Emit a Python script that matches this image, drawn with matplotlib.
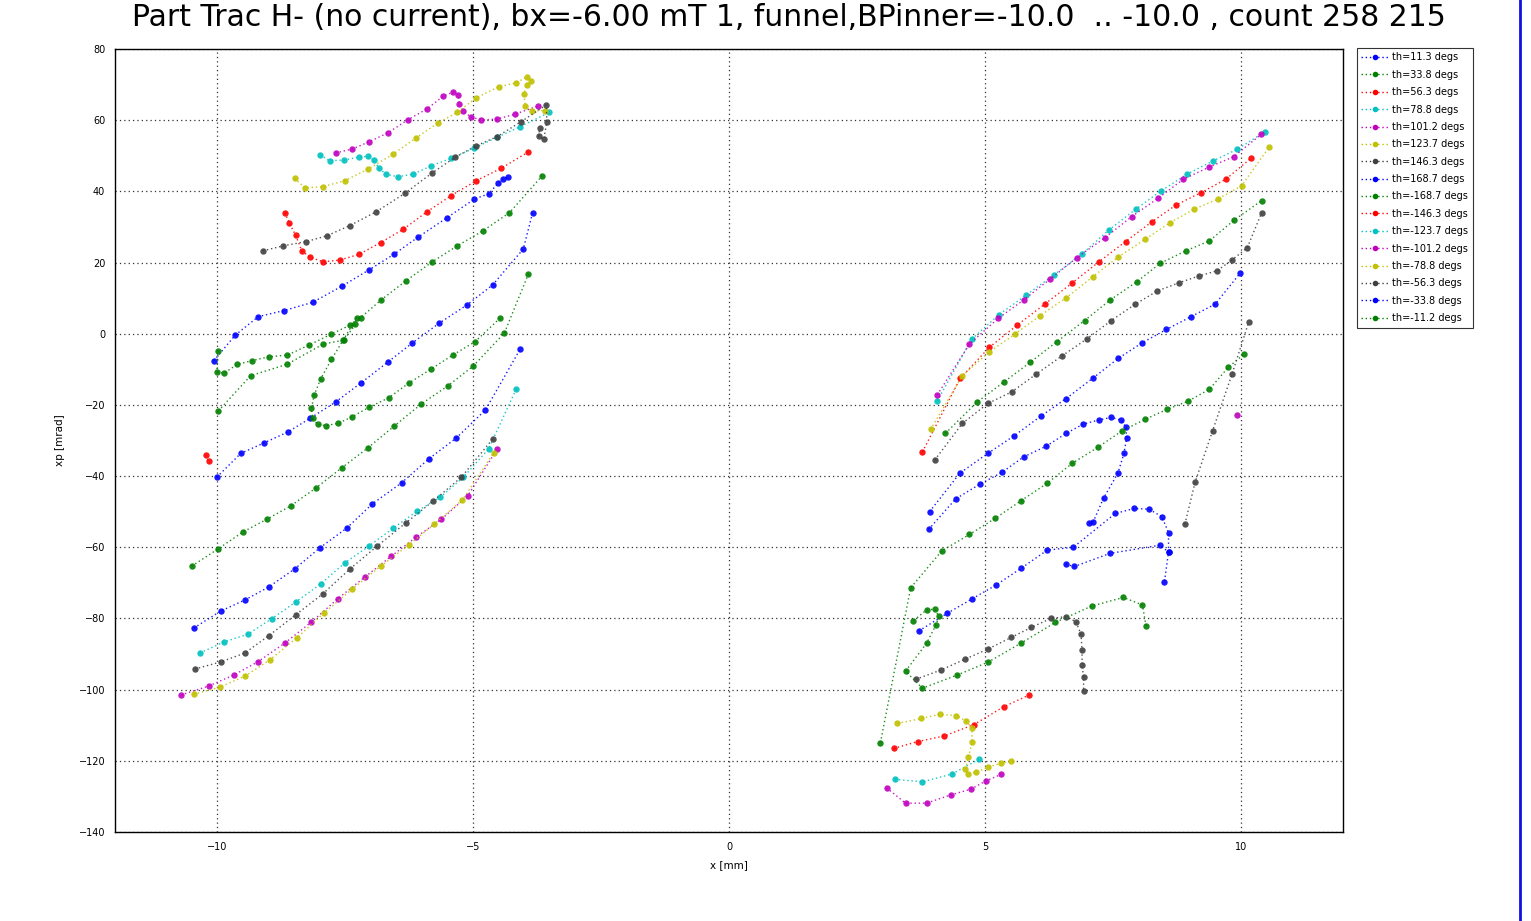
import matplotlib
matplotlib.use("Agg")
import matplotlib.pyplot as plt
from matplotlib.lines import Line2D

# series labels (legend order) and colour cycle
labels = ["th=11.3 degs", "th=33.8 degs", "th=56.3 degs", "th=78.8 degs",
          "th=101.2 degs", "th=123.7 degs", "th=146.3 degs", "th=168.7 degs",
          "th=-168.7 degs", "th=-146.3 degs", "th=-123.7 degs", "th=-101.2 degs",
          "th=-78.8 degs", "th=-56.3 degs", "th=-33.8 degs", "th=-11.2 degs"]
cycle = ["#0000ff", "#008000", "#ff0000", "#00c0c0", "#c000c0", "#c0c000", "#404040"]

# ---- left group (x [mm], xp [mrad]) ----
mag_left_up = [(-7.69, 50.8), (-7.36, 51.9), (-7.04, 53.9), (-6.67, 56.4), (-6.28, 60.1),
               (-5.91, 63.1), (-5.58, 66.8), (-5.39, 67.9), (-5.29, 67.1), (-5.27, 64.5),
               (-5.19, 62.6), (-5.05, 60.9), (-4.84, 60.1), (-4.53, 60.3), (-4.18, 61.7),
               (-3.73, 64.0)]
mag_left_low = [(-10.71, -101.5), (-10.17, -99.0), (-9.68, -95.9), (-9.21, -92.2),
                (-8.68, -86.9), (-8.16, -81.0), (-7.65, -74.5), (-7.12, -68.4),
                (-6.60, -62.5), (-6.11, -57.1), (-5.62, -52.1), (-5.11, -45.6), (-4.53, -32.4)]
yel_left_low = [(-10.46, -101.3), (-9.95, -99.3), (-9.46, -96.2), (-8.98, -91.7),
                (-8.45, -85.5), (-7.92, -78.5), (-7.36, -71.7), (-6.81, -65.3),
                (-6.26, -59.4), (-5.76, -53.5), (-5.21, -46.7), (-4.60, -33.5)]
yel_left_up = [(-8.49, 43.7), (-8.29, 41.0), (-7.94, 41.3), (-7.51, 43.0), (-7.06, 46.2),
               (-6.56, 50.5), (-6.11, 55.1), (-5.68, 59.3), (-5.31, 62.2), (-4.94, 66.3),
               (-4.50, 69.4), (-4.16, 70.5), (-3.95, 72.2), (-3.87, 71.1), (-3.95, 69.9),
               (-4.01, 67.4), (-3.98, 64.0), (-3.85, 62.6), (-3.59, 62.7)]
gry_left_low = [(-10.44, -94.2), (-9.93, -92.2), (-9.46, -89.7), (-9.00, -84.9),
                (-8.47, -79.0), (-7.94, -73.1), (-7.41, -66.1), (-6.87, -59.6),
                (-6.32, -53.2), (-5.78, -47.0), (-5.23, -40.3), (-4.62, -29.6)]
gry_left_up = [(-9.11, 23.3), (-8.71, 24.7), (-8.26, 25.9), (-7.86, 27.5), (-7.41, 30.4),
               (-6.89, 34.3), (-6.34, 39.4), (-5.81, 45.1), (-5.35, 49.6), (-4.94, 52.8),
               (-4.53, 55.4), (-4.06, 59.6), (-3.57, 64.3), (-3.56, 59.6), (-3.62, 54.6),
               (-3.72, 55.5), (-3.70, 57.7)]
cya_left_low = [(-10.34, -89.7), (-9.87, -86.6), (-9.40, -84.4), (-8.94, -80.1),
                (-8.47, -75.4), (-7.98, -70.3), (-7.51, -64.4), (-7.04, -59.7),
                (-6.56, -54.6), (-6.09, -49.8), (-5.64, -45.9), (-5.19, -40.3),
                (-4.70, -32.4), (-4.16, -15.6)]
cya_left_up = [(-7.99, 50.2), (-7.80, 48.6), (-7.53, 48.8), (-7.23, 49.6), (-7.05, 49.9),
               (-6.94, 48.8), (-6.84, 46.5), (-6.70, 44.8), (-6.47, 44.1), (-6.18, 44.8),
               (-5.83, 47.1), (-5.43, 49.3), (-4.99, 52.1), (-4.53, 55.2), (-4.08, 58.2),
               (-3.51, 62.2)]
blu_left_low = [(-10.46, -82.7), (-9.93, -77.9), (-9.46, -74.8), (-9.00, -71.2),
                (-8.49, -66.1), (-8.00, -60.2), (-7.47, -54.6), (-6.97, -47.8),
                (-6.40, -41.9), (-5.87, -35.2), (-5.33, -29.3), (-4.76, -21.4), (-4.08, -4.3)]
blu_left_mid = [(-10.01, -40.3), (-9.54, -33.6), (-9.09, -30.7), (-8.62, -27.6),
                (-8.18, -23.7), (-7.69, -19.2), (-7.20, -13.9), (-6.67, -8.0),
                (-6.19, -2.6), (-5.66, 3.0), (-5.13, 8.0), (-4.62, 13.7), (-4.02, 23.8),
                (-3.84, 33.9)]
blu_left_up = [(-10.07, -7.6), (-9.65, -0.4), (-9.20, 4.8), (-8.70, 6.5), (-8.14, 8.8),
               (-7.56, 13.4), (-7.04, 17.9), (-6.54, 22.4), (-6.07, 27.2), (-5.52, 32.5),
               (-4.98, 37.8), (-4.70, 39.3), (-4.51, 42.3), (-4.41, 43.5), (-4.31, 44.0)]
red_left_low = [(-10.67, -74.8), (-10.30, -70.0), (-9.99, -67.5), (-9.62, -65.3),
                (-9.27, -63.9), (-8.88, -61.6), (-8.45, -58.5), (-8.00, -54.3),
                (-7.55, -49.3), (-7.10, -44.5), (-6.65, -39.4), (-6.20, -34.6),
                (-5.76, -31.0), (-5.33, -26.5), (-4.90, -22.3), (-4.43, -13.6), (-3.86, 3.6)]
red_left_up = [(-8.68, 34.0), (-8.59, 31.0), (-8.47, 27.7), (-8.35, 23.3), (-8.19, 21.5),
               (-7.93, 20.2), (-7.61, 20.7), (-7.23, 22.3), (-6.81, 25.6), (-6.37, 29.3),
               (-5.90, 34.3), (-5.43, 38.8), (-4.94, 43.0), (-4.45, 46.5), (-3.92, 51.1)]
red_left_pair = [(-10.23, -34.1), (-10.17, -35.8)]
grn_left_low = [(-10.50, -65.3), (-9.99, -60.5), (-9.50, -55.7), (-9.03, -52.1),
                (-8.57, -48.4), (-8.08, -43.4), (-7.57, -37.7), (-7.06, -32.1),
                (-6.54, -25.9), (-6.01, -19.7), (-5.50, -14.7), (-5.00, -9.1),
                (-4.39, 0.2), (-3.92, 16.8)]
grn_left_a = [(-9.98, -4.9), (-10.01, -10.7), (-9.87, -11.1), (-9.61, -8.6), (-9.33, -7.6),
              (-9.00, -6.5), (-8.63, -6.0), (-8.21, -3.2), (-7.77, -0.1), (-7.41, 2.4),
              (-7.20, 4.5), (-6.80, 9.5), (-6.32, 14.8), (-5.80, 20.2), (-5.31, 24.7),
              (-4.81, 28.9), (-4.29, 34.0), (-3.65, 44.4)]
grn_left_b = [(-9.98, -21.7), (-9.35, -11.8), (-8.64, -8.6), (-7.93, -2.9), (-7.53, -1.8),
              (-7.30, 2.6)]
grn_left_c = [(-7.28, 4.5), (-7.54, -1.8), (-7.77, -7.2), (-7.98, -12.7), (-8.11, -17.3),
              (-8.16, -21.0), (-8.14, -23.6), (-8.04, -25.5), (-7.88, -25.8), (-7.64, -25.2),
              (-7.36, -23.3), (-7.04, -20.7), (-6.65, -18.0), (-6.26, -13.9), (-5.83, -10.0),
              (-5.40, -6.0), (-4.96, -2.2), (-4.48, 4.3)]

# ---- right group ----
mag_right_up = [(4.07, -17.2), (4.70, -2.9), (5.26, 4.3), (5.76, 9.5), (6.28, 15.4),
                (6.80, 21.4), (7.35, 27.0), (7.87, 32.9), (8.38, 38.0), (8.88, 43.4),
                (9.38, 46.8), (9.86, 49.7), (10.40, 56.0)]
mag_right_low = [(3.08, -127.6), (3.45, -131.9), (3.86, -131.9), (4.33, -129.6),
                 (4.72, -128.0), (5.03, -125.6), (5.32, -123.8)]
mag_right_one = [(9.92, -22.8)]
cya_right_up = [(4.07, -18.9), (4.74, -1.6), (5.27, 5.3), (5.81, 10.9), (6.35, 16.5),
                (6.90, 22.4), (7.42, 29.1), (7.95, 35.0), (8.45, 40.2), (8.96, 44.9),
                (9.45, 48.5), (9.93, 51.8), (10.48, 56.8)]
cya_right_low = [(3.24, -125.2), (3.78, -125.9), (4.36, -123.7), (4.88, -119.6)]
red_right_up = [(3.78, -33.2), (4.52, -12.5), (5.09, -3.8), (5.63, 2.4), (6.17, 8.3),
                (6.71, 14.3), (7.23, 20.2), (7.75, 25.9), (8.27, 31.5), (8.74, 36.2),
                (9.22, 39.6), (9.71, 43.4), (10.20, 49.3)]
red_right_low = [(3.22, -116.5), (3.69, -114.6), (4.21, -113.0), (4.79, -109.8),
                 (5.37, -104.8), (5.87, -101.5)]
yel_right_up = [(3.94, -26.9), (4.56, -11.8), (5.08, -5.2), (5.58, -0.2), (6.08, 5.1),
                (6.59, 10.1), (7.11, 16.0), (7.61, 21.6), (8.14, 26.6), (8.62, 31.2),
                (9.09, 35.0), (9.55, 37.8), (10.02, 41.6), (10.56, 52.5)]
yel_right_low = [(3.29, -109.5), (3.76, -108.1), (4.12, -106.9), (4.43, -107.3),
                 (4.64, -108.8), (4.75, -110.9), (4.75, -114.8), (4.68, -118.9),
                 (4.62, -122.4), (4.67, -123.8), (4.83, -123.2), (5.07, -121.7),
                 (5.32, -120.7), (5.52, -120.0)]
grn_right_up = [(4.23, -28.0), (4.84, -19.3), (5.37, -13.6), (5.89, -8.0), (6.41, -2.2),
                (6.95, 3.7), (7.45, 9.5), (7.97, 14.6), (8.43, 19.8), (8.93, 23.3),
                (9.39, 26.1), (9.87, 31.9), (10.41, 37.4)]
grn_right_a = [(2.96, -114.9), (3.55, -71.4), (4.16, -61.0), (4.70, -56.4), (5.20, -51.9),
               (5.70, -47.0), (6.22, -42.0), (6.71, -36.4), (7.21, -31.9), (7.68, -27.3),
               (8.14, -24.0), (8.57, -21.2), (8.98, -18.9), (9.39, -15.6), (9.76, -9.4),
               (10.07, -5.7)]
grn_right_b = [(8.15, -82.1), (8.08, -76.2), (7.71, -74.1), (7.09, -76.5), (6.38, -81.1),
               (5.70, -87.0), (5.06, -92.3), (4.46, -95.9), (3.78, -99.6), (3.45, -94.8),
               (3.86, -87.0), (4.05, -81.7), (4.10, -79.4), (4.02, -77.4), (3.86, -77.6),
               (3.60, -80.7)]
gry_right_up = [(4.02, -35.5), (4.56, -25.2), (5.06, -19.6), (5.53, -16.3), (6.00, -11.4),
                (6.50, -6.3), (6.99, -1.5), (7.47, 3.7), (7.94, 8.3), (8.37, 12.0),
                (8.79, 14.3), (9.18, 16.2), (9.54, 17.7), (9.83, 20.7), (10.13, 24.2),
                (10.41, 34.0)]
gry_right_steep = [(8.91, -53.5), (9.11, -41.7), (9.45, -27.3), (9.83, -11.4), (10.16, 3.4)]
gry_right_low = [(3.65, -97.1), (4.14, -94.5), (4.62, -91.4), (5.06, -88.6), (5.52, -85.3),
                 (5.91, -82.5), (6.29, -80.0), (6.58, -79.5), (6.78, -80.9), (6.88, -84.5),
                 (6.90, -88.9), (6.90, -93.1), (6.93, -96.4), (6.93, -100.4)]
blu_right_1 = [(3.92, -50.0), (4.51, -39.2), (5.06, -33.6), (5.57, -28.7), (6.10, -23.1),
               (6.59, -18.2), (7.11, -12.5), (7.61, -6.9), (8.08, -2.5), (8.55, 1.2),
               (9.03, 4.8), (9.50, 8.3), (9.99, 17.0)]
blu_right_2 = [(3.90, -55.0), (4.43, -46.4), (4.90, -42.3), (5.34, -38.9), (5.76, -34.6),
               (6.20, -31.6), (6.59, -28.0), (6.92, -25.4), (7.24, -24.2), (7.47, -23.5),
               (7.66, -24.3), (7.76, -26.3), (7.77, -29.4), (7.72, -33.6), (7.60, -39.2),
               (7.32, -46.2), (7.12, -52.8), (7.03, -53.3)]
blu_right_3 = [(3.71, -83.5), (4.26, -78.6), (4.75, -74.5), (5.22, -70.6), (5.71, -65.9),
               (6.22, -60.8), (6.73, -60.0), (7.55, -50.5), (7.92, -49.1), (8.21, -49.3),
               (8.46, -51.4), (8.59, -55.9), (8.59, -61.4), (8.51, -69.7)]
blu_right_4 = [(6.58, -64.8), (6.75, -65.4), (7.45, -61.7), (8.43, -59.4), (8.59, -61.4)]

# which curves belong to which series
series = [
    [blu_left_up, blu_right_1],
    [grn_left_a, grn_right_up],
    [red_left_up, red_right_up],
    [cya_left_up, cya_right_up],
    [mag_left_up, mag_right_up],
    [yel_left_up, yel_right_up],
    [gry_left_up, gry_right_up],
    [blu_left_mid, blu_right_2],
    [grn_left_b, grn_left_c, grn_right_a],
    [red_left_pair, red_right_low],
    [cya_left_low, cya_right_low],
    [mag_left_low, mag_right_one, mag_right_low],
    [yel_left_low, yel_right_low],
    [gry_left_low, gry_right_steep, gry_right_low],
    [blu_left_low, blu_right_3, blu_right_4],
    [grn_left_low, grn_right_b],
]

W, H = 1531, 921
fig = plt.figure(figsize=(W / 100, H / 100), dpi=100)
ax = fig.add_axes([115 / W, 1 - 832 / H, 1228 / W, 783 / H])

handles = []
for i, curves in enumerate(series):
    col = cycle[i % len(cycle)]
    for c in curves:
        xs = [p[0] for p in c]
        ys = [p[1] for p in c]
        ax.plot(xs, ys, linestyle=(0, (1, 2)), linewidth=1.0, color=col, alpha=0.9,
                marker="o", markersize=4.6, markeredgewidth=0, zorder=3)
    handles.append(Line2D([], [], linestyle=(0, (1, 2)), linewidth=1.0, color=col,
                          marker="o", markersize=4, markeredgewidth=0))

ax.set_xlim(-12, 12)
ax.set_ylim(-140, 80)
ax.set_xticks([-10, -5, 0, 5, 10])
ax.set_yticks(range(-140, 81, 20))
ax.tick_params(length=0, labelsize=7, pad=7)
ax.grid(True, color="#333333", linestyle=(0, (1, 2.5)), linewidth=0.9)
for s in ax.spines.values():
    s.set_linewidth(1.0)
    s.set_color("black")
ax.set_xlabel("x [mm]", fontsize=7.5, labelpad=6)
ax.set_ylabel("xp [mrad]", fontsize=7.5, labelpad=10)

fig.text(789 / W, 1 - 18 / H,
         "Part Trac H- (no current), bx=-6.00 mT 1, funnel,BPinner=-10.0  .. -10.0 , count 258 215",
         ha="center", va="center", fontsize=21.5)

leg = fig.legend(handles, labels, loc="upper left",
                 bbox_to_anchor=(1357 / W, 1 - 48 / H), fontsize=7,
                 frameon=True, fancybox=False, borderpad=0.45, labelspacing=0.76,
                 handlelength=2.8, handletextpad=0.4, borderaxespad=0)
leg.get_frame().set_edgecolor("black")
leg.get_frame().set_linewidth(0.8)

fig.add_artist(Line2D([1520 / W, 1520 / W], [0, 1], color="#1010e0", linewidth=2))

fig.savefig("out.png", dpi=100)
